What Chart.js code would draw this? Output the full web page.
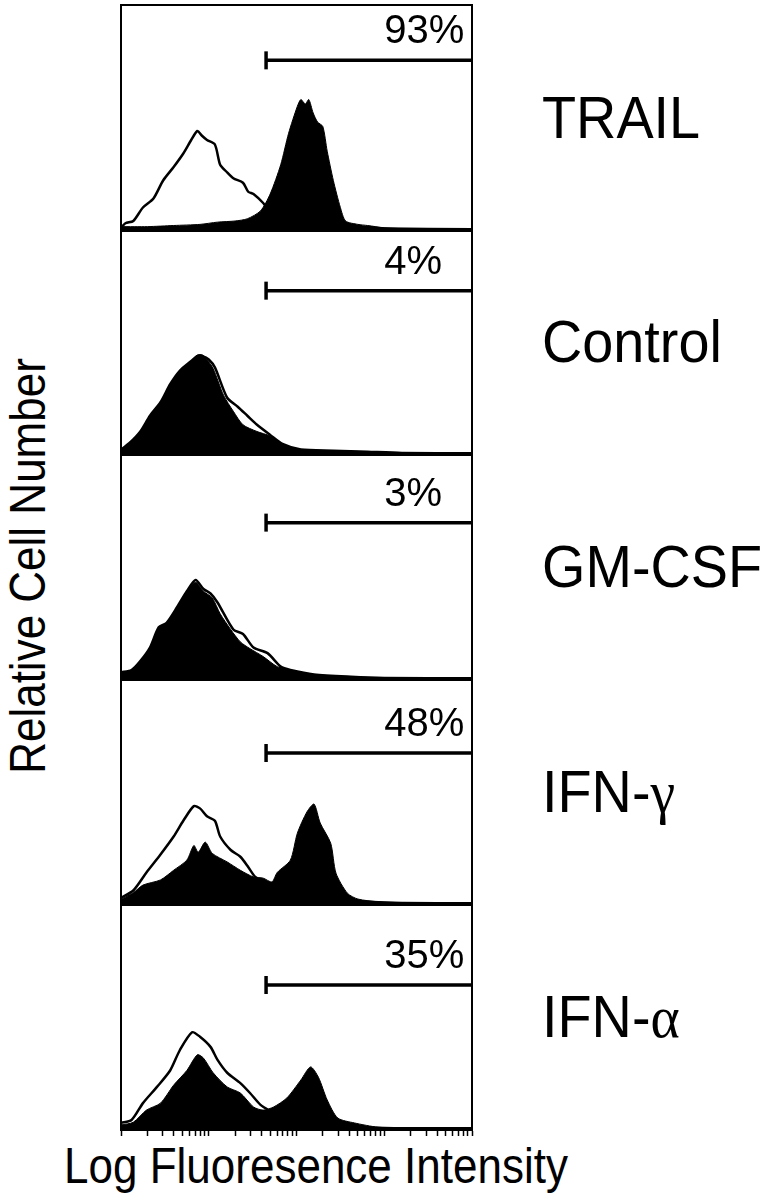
<!DOCTYPE html>
<html><head><meta charset="utf-8">
<script src="https://cdn.jsdelivr.net/npm/chart.js@4.4.1/dist/chart.umd.min.js"></script>
<style>
html,body{margin:0;padding:0;background:#fff;width:772px;height:1200px;overflow:hidden;font-family:"Liberation Sans",Arial,sans-serif;color:#000}
canvas.panel{position:absolute;left:119px}
.lab{position:absolute;left:542px;font-size:60px;line-height:1;white-space:nowrap;transform:translate(0,-50%) scaleX(0.93);transform-origin:left center}
.greek{font-family:"Liberation Serif","DejaVu Serif",serif}
#xtitle{position:absolute;left:316px;top:1166px;font-size:50px;line-height:1;white-space:nowrap;transform:translate(-50%,-50%) scaleX(0.88)}
#ytitle{position:absolute;left:28px;top:566px;font-size:50px;line-height:1;white-space:nowrap;transform:translate(-50%,-50%) rotate(-90deg) scaleX(0.88)}
</style></head><body>
<div id="root"></div>
<div id="xtitle">Log Fluoresence Intensity</div>
<div id="ytitle">Relative Cell Number</div>
<script>
// ---- DATA ----
const panelLabels = ["TRAIL", "Control", "GM-CSF", "IFN-\u03b3", "IFN-\u03b1"];
const gatePercents = ["93%", "4%", "3%", "48%", "35%"];
const gateStart = 45;            // fluorescence units where the marker begins
const gateEnd = 10000;
const gateLevels = [75.4, 72.6, 69.5, 67.1, 64.0]; // relative cell number of the marker bar
const percentLabelX = 1000;
const axisMin = 1, axisMax = 10000;
const tickValues = [1,2,3,4,5,6,7,8,9,10,20,30,40,50,60,70,80,90,100,200,300,400,500,600,700,800,900,1000,2000,3000,4000,5000,6000,7000,8000,9000,10000];

// x positions in log decades, y in relative cell number (0-100)
// TRAIL
const trailStainedX = [0,0.3,0.6,0.9,1.1,1.3,1.44,1.59,1.7,1.82,1.91,2.01,2.05,2.1,2.14,2.19,2.24,2.3,2.35,2.42,2.5,2.56,2.7,2.81,3.0,3.3,4.0];
const trailStainedY = [1.5,1.5,2,2.5,3.5,4,5,8.5,16,29,43,55,58,56,58,52,48,46,35,22,10,4,2.5,2,1,0.5,0.3];
const trailIsotypeX = [0,0.05,0.14,0.25,0.37,0.48,0.6,0.71,0.8,0.87,0.92,0.98,1.07,1.13,1.2,1.28,1.39,1.45,1.51,1.62,1.7,1.8,2.0,2.3,2.6,3.0,4.0];
const trailIsotypeY = [1,3,4,10,14,22,28,34,40,44,42,40,38,29,26,23,21,17,16,12,8,5,3,2,1.5,0.7,0.3];
// Control
const controlStainedX = [0,0.1,0.22,0.33,0.45,0.56,0.67,0.79,0.87,0.93,0.98,1.05,1.17,1.28,1.39,1.55,1.7,1.84,2.05,2.42,2.81,3.2,4.0];
const controlStainedY = [2,5,10,17,23,31,37,41,44,44,42,38,26,19,13,10,8,4.5,2,1.5,1,0.5,0.3];
const controlIsotypeX = [0,0.1,0.22,0.33,0.45,0.56,0.67,0.79,0.87,0.93,1.0,1.07,1.21,1.33,1.44,1.55,1.7,1.84,2.05,2.42,2.81,3.2,4.0];
const controlIsotypeY = [2,5,10,17,23,31,37,41,43.5,43.5,42,38.5,25,21,17,13,8.5,4.5,2,1.5,1,0.5,0.3];
// GM-CSF
const gmcsfStainedX = [0,0.12,0.22,0.33,0.43,0.52,0.64,0.75,0.85,0.94,1.04,1.13,1.25,1.36,1.47,1.62,1.78,1.93,2.2,2.62,3.0,4.0];
const gmcsfStainedY = [3,4,8,14,23,25,32,39,43,39,36,29,22,16.5,13.5,10,5.5,4,2,1,0.5,0.3];
const gmcsfIsotypeX = [0,0.12,0.22,0.33,0.43,0.52,0.64,0.75,0.85,0.94,1.02,1.1,1.28,1.39,1.51,1.67,1.82,1.93,2.2,2.62,3.0,4.0];
const gmcsfIsotypeY = [3,4,8,14,23,25,32,39,44,40,38,34,22,20,14,11.5,5.5,4,2,1,0.5,0.3];
// IFN-gamma
const ifngStainedX = [0,0.14,0.25,0.45,0.6,0.75,0.83,0.88,0.96,1.04,1.21,1.36,1.51,1.62,1.72,1.78,1.93,2.01,2.12,2.2,2.27,2.39,2.45,2.58,2.7,2.93,3.2,4.0];
const ifngStainedY = [2,5,8.4,10.7,15,19.5,26,23,27.5,22.5,18.7,15,12,11.5,9.8,14,19.5,31.5,41,44.4,36,27,13.7,4.8,2.2,1,0.6,0.3];
const ifngIsotypeX = [0,0.14,0.29,0.45,0.6,0.71,0.83,0.9,0.98,1.07,1.13,1.25,1.36,1.44,1.53,1.62,1.72,1.8,2.0,2.4,2.8,3.2,4.0];
const ifngIsotypeY = [2.7,6,14,22,30,37,43.5,42.5,39,37,30,24,21,17,12,10,8,5,3,2,1,0.5,0.3];
// IFN-alpha
const ifnaStainedX = [0,0.14,0.29,0.45,0.6,0.75,0.87,0.94,1.05,1.21,1.36,1.51,1.62,1.74,1.89,2.05,2.16,2.25,2.35,2.47,2.66,2.93,3.3,4.0];
const ifnaStainedY = [1.8,3,8.4,11.5,19.5,26,33,31.5,25,18.7,16,9.8,8.4,9.8,13.8,21.8,27.6,23,12.9,4.9,2.7,0.8,0.4,0.2];
const ifnaIsotypeX = [0,0.12,0.25,0.41,0.56,0.67,0.81,0.9,1.02,1.1,1.21,1.36,1.47,1.59,1.7,1.85,2.1,2.5,3.0,4.0];
const ifnaIsotypeY = [2.7,4,11.5,18.7,26,35,43,41,36.5,30.7,25,20.4,16,10.7,8,5,3,1.5,0.5,0.3];

const stainedX = [trailStainedX, controlStainedX, gmcsfStainedX, ifngStainedX, ifnaStainedX];
const stainedY = [trailStainedY, controlStainedY, gmcsfStainedY, ifngStainedY, ifnaStainedY];
const isotypeX = [trailIsotypeX, controlIsotypeX, gmcsfIsotypeX, ifngIsotypeX, ifnaIsotypeX];
const isotypeY = [trailIsotypeY, controlIsotypeY, gmcsfIsotypeY, ifngIsotypeY, ifnaIsotypeY];

// ---- LAYOUT ----
const panelTops = [5, 229, 454, 679, 904];
const panelH = 225;
const root = document.getElementById('root');

function pts(xs, ys) { return xs.map((d, i) => ({x: Math.pow(10, d), y: ys[i]})); }

const framePlugin = {
  id: 'frame',
  afterDatasetsDraw(chart, args, opts) {
    const {ctx, chartArea: a, scales} = chart;
    ctx.save();
    ctx.strokeStyle = '#000';
    ctx.lineWidth = 2;
    ctx.beginPath();
    ctx.moveTo(a.left, a.bottom); ctx.lineTo(a.left, a.top);
    ctx.lineTo(a.right, a.top); ctx.lineTo(a.right, a.bottom);
    ctx.stroke();
    // percentage label
    const px = scales.x.getPixelForValue(percentLabelX);
    const py = scales.y.getPixelForValue(gateLevels[opts.idx]) - 28;
    ctx.fillStyle = '#000';
    ctx.font = '40px "Liberation Sans", Arial, sans-serif';
    ctx.textAlign = 'left';
    ctx.textBaseline = 'middle';
    ctx.fillText(gatePercents[opts.idx], px, py);
    ctx.restore();
  }
};

for (let i = 0; i < 5; i++) {
  const last = i === 4;
  const c = document.createElement('canvas');
  c.className = 'panel';
  c.width = 355;
  c.height = 1 + panelH + 2 + (last ? 7 : 0);
  c.style.top = (panelTops[i] - 1) + 'px';
  root.appendChild(c);

  const lab = document.createElement('div');
  lab.className = 'lab';
  const t = panelLabels[i];
  if (t.startsWith('IFN-')) {
    lab.innerHTML = 'IFN-<span class="greek">' + t.slice(4) + '</span>';
  } else lab.textContent = t;
  lab.style.top = (panelTops[i] + panelH / 2) + 'px';
  document.body.appendChild(lab);

  new Chart(c, {
    type: 'line',
    data: {
      datasets: [
        {
          label: 'marker',
          data: [{x: gateStart, y: gateLevels[i]}, {x: gateEnd, y: gateLevels[i]}],
          borderColor: '#000', borderWidth: 3.5, fill: false,
          pointStyle: 'line', pointRotation: 90, pointRadius: [9, 0],
          pointBorderWidth: 3.5, pointBorderColor: '#000', pointHoverRadius: 0,
          order: 0
        },
        {
          label: 'isotype',
          data: pts(isotypeX[i], isotypeY[i]),
          borderColor: '#000', borderWidth: 2.5, fill: false,
          pointRadius: 0, tension: 0.25, order: 1
        },
        {
          label: 'stained',
          data: pts(stainedX[i], stainedY[i]),
          borderColor: '#000', borderWidth: 1, backgroundColor: '#000', fill: 'origin',
          pointRadius: 0, tension: 0.25, order: 2
        }
      ]
    },
    options: {
      responsive: false, animation: false, devicePixelRatio: 1,
      layout: {autoPadding: false, padding: {top: 1, left: 2, right: 2, bottom: 2}},
      plugins: {legend: {display: false}, tooltip: {enabled: false}, frame: {idx: i}},
      scales: {
        x: {
          type: 'logarithmic', min: axisMin, max: axisMax, display: true,
          afterBuildTicks: (s) => { s.ticks = tickValues.map(v => ({value: v})); },
          grid: {drawOnChartArea: false, drawTicks: last, tickLength: 7, tickWidth: 1.5, tickColor: '#000'},
          border: {display: true, width: 3, color: '#000'},
          ticks: {display: false, autoSkip: false}
        },
        y: {min: 0, max: 100, display: false}
      }
    },
    plugins: [framePlugin]
  });
}
</script>
</body></html>
